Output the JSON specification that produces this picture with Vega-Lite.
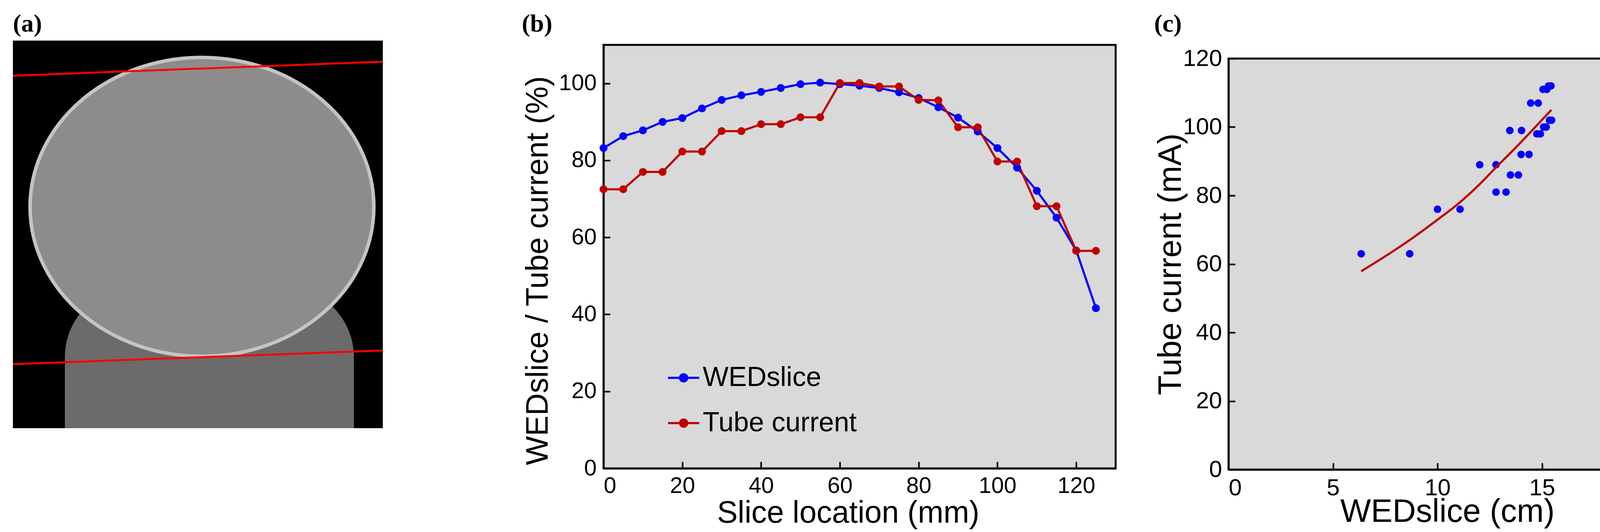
{
  "$schema": "https://vega.github.io/schema/vega-lite/v6.json",
  "background": "white",
  "padding": {"left": 33, "top": 30, "right": 0, "bottom": 0},
  "config": {
    "font": "Liberation Sans",
    "view": {"fill": "#d9d9d9", "stroke": "black", "strokeWidth": 5},
    "axis": {
      "grid": false,
      "domainColor": "black",
      "domainWidth": 5,
      "tickColor": "black",
      "tickWidth": 4,
      "tickSize": -17,
      "labelColor": "black",
      "titleColor": "black",
      "labelFont": "Liberation Sans",
      "titleFont": "Liberation Sans",
      "titleFontWeight": "normal"
    },
    "title": {"font": "Liberation Serif", "fontWeight": "bold", "fontSize": 64, "anchor": "start", "color": "black"}
  },
  "resolve": {"scale": {"color": "independent"}, "legend": {"color": "independent"}},
  "spacing": 355,
  "hconcat": [
    {
      "title": {"text": "(a)", "offset": 10},
      "width": 947,
      "height": 993,
      "view": {"fill": "black", "stroke": null},
      "layer": [
        {
          "data": {"values": [{"part": "neck", "left": 133, "right": 873, "top": 630, "bottom": 993}]},
          "mark": {"type": "rect", "fill": "#6b6b6b", "cornerRadiusTopLeft": 330, "cornerRadiusTopRight": 330, "clip": true},
          "encoding": {
            "x": {"field": "left", "type": "quantitative", "scale": {"domain": [0, 947], "nice": false, "zero": false}, "axis": null},
            "x2": {"field": "right"},
            "y": {"field": "top", "type": "quantitative", "scale": {"domain": [0, 993], "nice": false, "zero": false, "reverse": true}, "axis": null},
            "y2": {"field": "bottom"}
          }
        },
        {
          "data": {"values": [{"part": "skull", "px": 484, "py": 426}]},
          "mark": {"type": "point", "shape": "M-1,0A1,0.87,0,1,1,1,0A1,0.87,0,1,1,-1,0Z", "size": 774400, "filled": true, "fill": "#8c8c8c", "stroke": "#c4c4c4", "strokeWidth": 9, "opacity": 1, "clip": true},
          "encoding": {
            "x": {"field": "px", "type": "quantitative"},
            "y": {"field": "py", "type": "quantitative"}
          }
        },
        {
          "data": {"values": [
            {"edge": "top", "px": 0, "py": 90},
            {"edge": "top", "px": 947, "py": 54},
            {"edge": "bottom", "px": 0, "py": 829},
            {"edge": "bottom", "px": 947, "py": 794}
          ]},
          "mark": {"type": "line", "color": "#ff0000", "strokeWidth": 5, "clip": true},
          "encoding": {
            "x": {"field": "px", "type": "quantitative"},
            "y": {"field": "py", "type": "quantitative"},
            "detail": {"field": "edge", "type": "nominal"}
          }
        }
      ]
    },
    {
      "resolve": {"scale": {"color": "independent"}, "legend": {"color": "independent"}},
      "spacing": 95,
      "hconcat": [
        {
          "title": {"text": "(b)", "frame": "bounds", "offset": 10},
          "spacing": 7,
          "vconcat": [
            {
              "width": 1,
              "height": 1,
              "view": {"fill": null, "stroke": null},
              "data": {"values": []},
              "mark": {"type": "rule"},
              "encoding": {}
            },
            {
              "width": 1311,
              "height": 1085,
              "data": {"values": [
                {"slice": 0, "series": "WEDslice", "value": 83.2},
                {"slice": 5, "series": "WEDslice", "value": 86.3},
                {"slice": 10, "series": "WEDslice", "value": 87.8},
                {"slice": 15, "series": "WEDslice", "value": 90.0},
                {"slice": 20, "series": "WEDslice", "value": 91.0},
                {"slice": 25, "series": "WEDslice", "value": 93.5},
                {"slice": 30, "series": "WEDslice", "value": 95.7},
                {"slice": 35, "series": "WEDslice", "value": 96.9},
                {"slice": 40, "series": "WEDslice", "value": 97.8},
                {"slice": 45, "series": "WEDslice", "value": 98.8},
                {"slice": 50, "series": "WEDslice", "value": 99.8},
                {"slice": 55, "series": "WEDslice", "value": 100.2},
                {"slice": 60, "series": "WEDslice", "value": 99.8},
                {"slice": 65, "series": "WEDslice", "value": 99.4},
                {"slice": 70, "series": "WEDslice", "value": 98.8},
                {"slice": 75, "series": "WEDslice", "value": 97.7},
                {"slice": 80, "series": "WEDslice", "value": 96.2},
                {"slice": 85, "series": "WEDslice", "value": 93.8},
                {"slice": 90, "series": "WEDslice", "value": 91.1},
                {"slice": 95, "series": "WEDslice", "value": 87.5},
                {"slice": 100, "series": "WEDslice", "value": 83.2},
                {"slice": 105, "series": "WEDslice", "value": 78.1},
                {"slice": 110, "series": "WEDslice", "value": 72.1},
                {"slice": 115, "series": "WEDslice", "value": 65.1},
                {"slice": 120, "series": "WEDslice", "value": 56.6},
                {"slice": 125, "series": "WEDslice", "value": 41.6},
                {"slice": 0, "series": "Tube current", "value": 72.5},
                {"slice": 5, "series": "Tube current", "value": 72.5},
                {"slice": 10, "series": "Tube current", "value": 77.0},
                {"slice": 15, "series": "Tube current", "value": 77.0},
                {"slice": 20, "series": "Tube current", "value": 82.3},
                {"slice": 25, "series": "Tube current", "value": 82.3},
                {"slice": 30, "series": "Tube current", "value": 87.6},
                {"slice": 35, "series": "Tube current", "value": 87.6},
                {"slice": 40, "series": "Tube current", "value": 89.4},
                {"slice": 45, "series": "Tube current", "value": 89.4},
                {"slice": 50, "series": "Tube current", "value": 91.2},
                {"slice": 55, "series": "Tube current", "value": 91.2},
                {"slice": 60, "series": "Tube current", "value": 100.1},
                {"slice": 65, "series": "Tube current", "value": 100.1},
                {"slice": 70, "series": "Tube current", "value": 99.2},
                {"slice": 75, "series": "Tube current", "value": 99.2},
                {"slice": 80, "series": "Tube current", "value": 95.7},
                {"slice": 85, "series": "Tube current", "value": 95.6},
                {"slice": 90, "series": "Tube current", "value": 88.6},
                {"slice": 95, "series": "Tube current", "value": 88.6},
                {"slice": 100, "series": "Tube current", "value": 79.7},
                {"slice": 105, "series": "Tube current", "value": 79.7},
                {"slice": 110, "series": "Tube current", "value": 68.1},
                {"slice": 115, "series": "Tube current", "value": 68.1},
                {"slice": 120, "series": "Tube current", "value": 56.5},
                {"slice": 125, "series": "Tube current", "value": 56.5}
              ]},
              "encoding": {
                "x": {
                  "field": "slice", "type": "quantitative",
                  "scale": {"domain": [0, 130], "nice": false, "zero": false},
                  "axis": {"values": [0, 20, 40, 60, 80, 100, 120], "title": "Slice location (mm)", "labelFontSize": 58, "titleFontSize": 79, "labelPadding": 33, "titlePadding": 2, "titleX": 626}
                },
                "y": {
                  "field": "value", "type": "quantitative",
                  "scale": {"domain": [0, 110], "nice": false, "zero": false},
                  "axis": {"values": [0, 20, 40, 60, 80, 100], "title": "WEDslice / Tube current (%)", "labelFontSize": 58, "titleFontSize": 79, "labelPadding": 35, "titlePadding": 12, "titleY": 578}
                },
                "color": {
                  "field": "series", "type": "nominal",
                  "scale": {"domain": ["WEDslice", "Tube current"], "range": ["#0000ff", "#c00000"]},
                  "legend": {
                    "title": null,
                    "orient": "none",
                    "legendX": 162,
                    "legendY": 821,
                    "labelFontSize": 70,
                    "labelFont": "Liberation Sans",
                    "labelColor": "black",
                    "labelLimit": 1000,
                    "labelOffset": 6,
                    "rowPadding": 38,
                    "symbolType": "M-1,0H1M-0.23,0A0.23,0.23,0,1,1,0.23,0A0.23,0.23,0,1,1,-0.23,0Z",
                    "symbolSize": 6400,
                    "symbolStrokeWidth": 5.5,
                    "encode": {
                      "symbols": {
                        "update": {
                          "fill": [{"test": "datum.value === 'WEDslice'", "value": "#0000ff"}, {"value": "#c00000"}],
                          "stroke": [{"test": "datum.value === 'WEDslice'", "value": "#0000ff"}, {"value": "#c00000"}],
                          "opacity": {"value": 1},
                          "fillOpacity": {"value": 1},
                          "strokeOpacity": {"value": 1}
                        }
                      }
                    }
                  }
                }
              },
              "layer": [
                {"mark": {"type": "line", "strokeWidth": 5.5}},
                {"mark": {"type": "point", "filled": true, "size": 410, "opacity": 1}}
              ]
            }
          ]
        },
        {
          "title": {"text": "(c)", "frame": "bounds", "offset": 10},
          "spacing": 12,
          "vconcat": [
            {
              "width": 1,
              "height": 1,
              "view": {"fill": null, "stroke": null},
              "data": {"values": []},
              "mark": {"type": "rule"},
              "encoding": {}
            },
            {
              "width": 1070,
              "height": 1053,
              "layer": [
                {
                  "data": {"values": [
                    {"wed": 6.35, "current": 63},
                    {"wed": 8.67, "current": 63},
                    {"wed": 10.0, "current": 76},
                    {"wed": 11.08, "current": 76},
                    {"wed": 12.02, "current": 89},
                    {"wed": 12.8, "current": 89},
                    {"wed": 12.8, "current": 81},
                    {"wed": 13.28, "current": 81},
                    {"wed": 13.46, "current": 99},
                    {"wed": 14.02, "current": 99},
                    {"wed": 13.49, "current": 86},
                    {"wed": 13.87, "current": 86},
                    {"wed": 14.0, "current": 92},
                    {"wed": 14.38, "current": 92},
                    {"wed": 14.46, "current": 107},
                    {"wed": 14.82, "current": 107},
                    {"wed": 14.75, "current": 98},
                    {"wed": 14.92, "current": 98},
                    {"wed": 15.08, "current": 100},
                    {"wed": 15.2, "current": 100},
                    {"wed": 15.05, "current": 111},
                    {"wed": 15.23, "current": 111},
                    {"wed": 15.31, "current": 112},
                    {"wed": 15.43, "current": 112},
                    {"wed": 15.36, "current": 102},
                    {"wed": 15.46, "current": 102}
                  ]},
                  "mark": {"type": "point", "filled": true, "size": 380, "color": "#0000ff", "opacity": 1},
                  "encoding": {
                    "x": {
                      "field": "wed", "type": "quantitative",
                      "scale": {"domain": [0, 20], "nice": false, "zero": false},
                      "axis": {"values": [0, 5, 10, 15, 20], "title": "WEDslice (cm)", "labelFontSize": 60, "titleFontSize": 83, "labelPadding": 35, "titlePadding": -10, "titleX": 560}
                    },
                    "y": {
                      "field": "current", "type": "quantitative",
                      "scale": {"domain": [0, 120], "nice": false, "zero": false},
                      "axis": {"values": [0, 20, 40, 60, 80, 100, 120], "title": "Tube current (mA)", "labelFontSize": 60, "titleFontSize": 83, "labelPadding": 34, "titlePadding": -12}
                    }
                  }
                },
                {
                  "data": {"values": [
                    {"wed": 6.35, "current": 57.9},
                    {"wed": 8.67, "current": 67.0},
                    {"wed": 9.99, "current": 72.9},
                    {"wed": 10.99, "current": 77.6},
                    {"wed": 12.0, "current": 83.2},
                    {"wed": 12.81, "current": 88.3},
                    {"wed": 13.63, "current": 93.3},
                    {"wed": 14.4, "current": 98.2},
                    {"wed": 15.45, "current": 105.0}
                  ]},
                  "mark": {"type": "line", "color": "#c00000", "strokeWidth": 5.5, "interpolate": "monotone"},
                  "encoding": {
                    "x": {"field": "wed", "type": "quantitative"},
                    "y": {"field": "current", "type": "quantitative"}
                  }
                }
              ]
            }
          ]
        }
      ]
    }
  ]
}
